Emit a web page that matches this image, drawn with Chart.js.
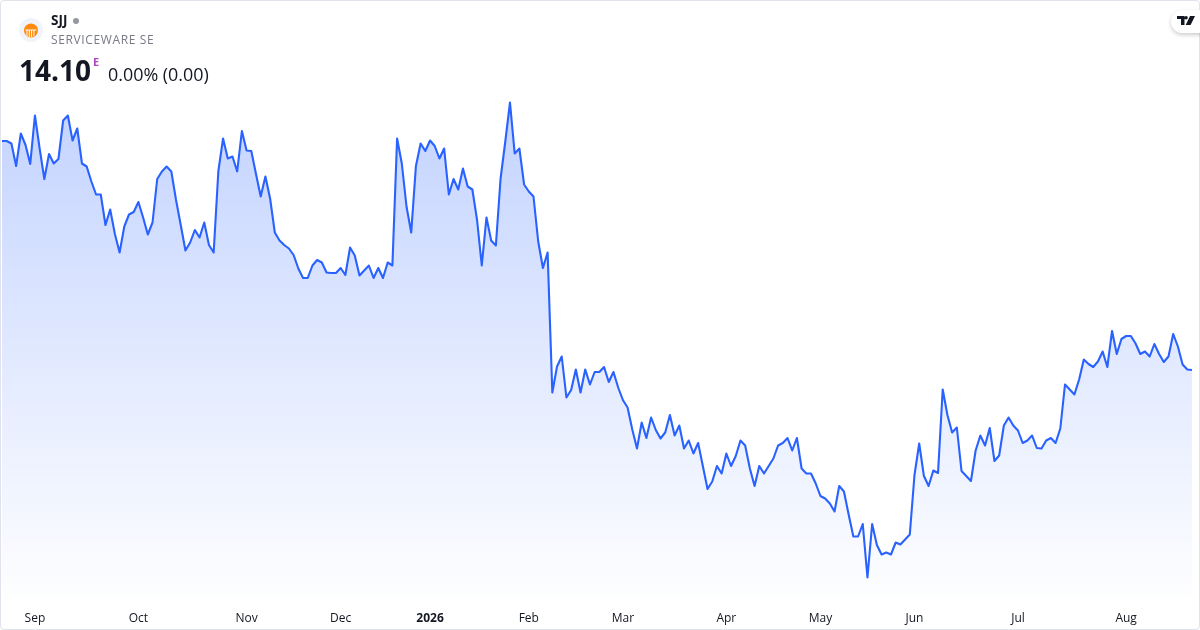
<!DOCTYPE html>
<html>
<head>
<meta charset="utf-8">
<script src="https://cdn.jsdelivr.net/npm/chart.js@4"></script>
<style>
html,body{margin:0;padding:0;background:#fff;width:1200px;height:630px;overflow:hidden}
#card{position:absolute;left:0;top:0;width:1198px;height:628px;border:1px solid #e0e3eb;border-radius:4px;overflow:hidden;background:#fff}
canvas{position:absolute;left:-1px;top:-1px}
.t{position:absolute;white-space:nowrap;font-family:"Open Sans",sans-serif;line-height:1}
</style>
</head>
<body>
<div id="card"><canvas id="c" width="1200" height="630"></canvas></div>
<svg style="position:absolute;left:19px;top:18px" width="24" height="24" viewBox="0 0 24 24">
<circle cx="12" cy="12" r="12" fill="#f0f3fa"/>
<circle cx="12" cy="12.5" r="7" fill="#ff8a0d"/>
<path d="M6.5 12h11M8 12v6M10.3 12v7M12.6 12v7M14.9 12v6" stroke="#fff" stroke-width="1" fill="none"/>
</svg>
<div class="t" style="left:51px;top:14px;font-size:13.5px;font-weight:700;color:#131722">SJJ</div>
<svg style="position:absolute;left:72px;top:17px" width="8" height="8"><circle cx="4" cy="4" r="3" fill="#9598a1"/></svg>
<div class="t" style="left:51px;top:34px;font-size:12px;letter-spacing:.62px;color:#787b86">SERVICEWARE SE</div>
<div class="t" style="left:19px;top:56px;font-size:28px;font-weight:700;color:#131722">14.10</div>
<div class="t" style="left:93px;top:56px;font-size:11px;font-weight:700;color:#ab47bc">E</div>
<div class="t" style="left:108px;top:66px;font-size:17.9px;color:#131722">0.00% (0.00)</div>
<div style="position:absolute;left:1171px;top:10px;width:40px;height:23px;border-radius:11.5px;background:#fff;box-shadow:0 2px 4px rgba(0,0,0,.2)"></div>
<svg style="position:absolute;left:1177px;top:16px" width="18" height="9" viewBox="0 0 18 9">
<path d="M0 0h7.5v9H4V3H0zM10.8 1.7a1.7 1.7 0 1 0-3.4 0 1.7 1.7 0 0 0 3.4 0zM13 0h5l-4.4 9H8.7z" fill="#131722"/>
</svg>
<script>
const values = [
18.68,18.68,18.63,18.18,18.83,18.60,18.22,19.19,18.53,17.92,
18.42,18.23,18.32,19.09,19.19,18.69,18.93,18.23,18.17,17.87,
17.61,17.61,17.00,17.31,16.82,16.45,16.97,17.21,17.26,17.46,
17.15,16.81,17.05,17.92,18.07,18.17,18.07,17.50,17.00,16.49,
16.65,16.90,16.75,17.05,16.60,16.45,18.08,18.73,18.33,18.37,
18.07,18.88,18.49,18.48,18.02,17.57,17.97,17.53,16.85,16.69,
16.60,16.53,16.40,16.13,15.94,15.94,16.19,16.30,16.25,16.05,
16.04,16.04,16.14,16.00,16.55,16.39,15.99,16.09,16.19,15.94,
16.14,15.94,16.25,16.19,18.73,18.23,17.37,16.85,18.18,18.63,
18.48,18.69,18.58,18.33,18.53,17.61,17.92,17.71,18.13,17.77,
17.71,17.10,16.19,17.15,16.69,16.59,17.93,18.67,19.45,18.43,
18.53,17.81,17.67,17.57,16.67,16.14,16.45,13.65,14.17,14.37,
13.55,13.70,14.11,13.65,14.11,13.81,14.06,14.06,14.16,13.86,
14.06,13.75,13.50,13.35,12.91,12.53,13.05,12.74,13.15,12.90,
12.73,12.85,13.20,12.79,12.99,12.53,12.69,12.43,12.64,12.18,
11.72,11.87,12.18,12.03,12.43,12.18,12.38,12.69,12.59,12.13,
11.78,12.18,12.03,12.18,12.33,12.59,12.64,12.74,12.49,12.74,
12.13,12.03,12.03,11.83,11.58,11.53,11.43,11.27,11.78,11.67,
11.21,10.77,10.77,11.02,9.95,11.02,10.60,10.41,10.45,10.41,
10.65,10.61,10.71,10.81,12.00,12.63,11.98,11.78,12.09,12.04,
13.71,13.20,12.85,12.95,12.08,11.98,11.88,12.49,12.79,12.59,
12.94,12.28,12.39,12.99,13.15,12.99,12.89,12.64,12.69,12.79,
12.54,12.53,12.69,12.74,12.64,12.93,13.81,13.71,13.61,13.91,
14.31,14.22,14.16,14.27,14.47,14.16,14.88,14.42,14.72,14.78,
14.78,14.63,14.42,14.47,14.37,14.62,14.42,14.26,14.37,14.82,
14.57,14.21,14.11,14.10];
const tickIndex  = [7,29,52,72,91,112,132,154,174,194,216,239];
const tickLabels = ["Sep","Oct","Nov","Dec","2026","Feb","Mar","Apr","May","Jun","Jul","Aug"];
const boldLabel  = "2026";
const categories = values.map((_, i) => {
  const k = tickIndex.indexOf(i);
  return k >= 0 ? tickLabels[k] : "";
});

new Chart(document.getElementById("c"), {
  type: "line",
  data: {
    labels: categories,
    datasets: [{
      data: values,
      borderColor: "#2962ff",
      borderWidth: 2.1,
      pointRadius: 0,
      tension: 0,
      fill: "start",
      borderJoinStyle: "round",
      backgroundColor: ctx => {
        const a = ctx.chart.chartArea;
        if (!a) return "rgba(41,98,255,.28)";
        const g = ctx.chart.ctx.createLinearGradient(0, 100, 0, a.bottom + 8);
        g.addColorStop(0, "rgba(41,98,255,0.28)");
        g.addColorStop(1, "rgba(41,98,255,0)");
        return g;
      }
    }]
  },
  options: {
    responsive: false,
    animation: false,
    devicePixelRatio: 1,
    layout: { padding: { left: 2, right: 8, top: 0, bottom: 0 } },
    plugins: { legend: { display: false }, tooltip: { enabled: false } },
    scales: {
      y: { display: false, min: 9.5, max: 21.5 },
      x: {
        border: { display: false },
        grid: { display: false, drawTicks: false },
        afterBuildTicks: axis => { axis.ticks = tickIndex.map(v => ({ value: v })); },
        afterFit: axis => { axis.height = 30; },
        ticks: {
          autoSkip: false,
          maxRotation: 0,
          padding: 11,
          color: "#131722",
          callback: function (v) { return this.getLabelForValue(v); },
          font: ctx => ({
            family: '"Open Sans", sans-serif',
            size: 12,
            weight: tickLabels[ctx.index] === boldLabel ? "700" : "400"
          })
        }
      }
    }
  }
});
</script>
</body>
</html>
